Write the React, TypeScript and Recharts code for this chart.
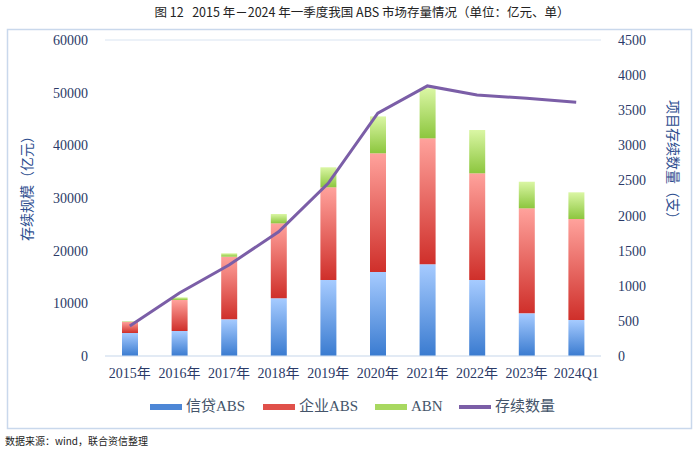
import React from "react";
import { ComposedChart, Bar, Line, XAxis, YAxis, CartesianGrid } from "recharts";

const years = ["2015年", "2016年", "2017年", "2018年", "2019年", "2020年", "2021年", "2022年", "2023年", "2024Q1"];
const creditAbs = [4370, 4750, 6960, 10950, 14430, 15950, 17410, 14430, 8100, 6840];
const corpAbs = [2130, 5880, 11900, 14240, 17600, 22540, 23920, 20260, 19940, 19170];
const abn = [100, 510, 640, 1770, 3800, 7000, 9490, 8220, 5050, 5070];
const counts = [427, 897, 1296, 1770, 2460, 3457, 3846, 3718, 3670, 3613];
const leftTicks = [0, 10000, 20000, 30000, 40000, 50000, 60000];
const rightTicks = [0, 500, 1000, 1500, 2000, 2500, 3000, 3500, 4000, 4500];

const data = years.map((y, i) => ({
  year: y,
  credit: creditAbs[i],
  corp: corpAbs[i],
  abn: abn[i],
  count: counts[i],
}));

const legendItems = [
  { name: "信贷ABS", color: "#4d87d6", x: 150, type: "bar" },
  { name: "企业ABS", color: "#e0504a", x: 263, type: "bar" },
  { name: "ABN", color: "#a8d860", x: 375, type: "bar" },
  { name: "存续数量", color: "#7b5ea7", x: 459, type: "line" },
];

const tickColor = "#2b3a67";
const serif = "'Liberation Serif', 'Noto Sans CJK SC', serif";
const cjk = "'Noto Sans CJK SC', sans-serif";

export default function App() {
  return (
    <div style={{ position: "fixed", left: 0, top: 0, width: 700, height: 452, background: "#fff" }}>
      <ComposedChart
        width={700}
        height={452}
        data={data}
        margin={{ top: 40, right: 39, bottom: 66, left: 45 }}
      >
        <defs>
          <linearGradient id="gBlue" x1="0" y1="0" x2="0" y2="1">
            <stop offset="0%" stopColor="#a6cbff" />
            <stop offset="100%" stopColor="#3a7bd0" />
          </linearGradient>
          <linearGradient id="gRed" x1="0" y1="0" x2="0" y2="1">
            <stop offset="0%" stopColor="#ffa29c" />
            <stop offset="100%" stopColor="#cf2f2a" />
          </linearGradient>
          <linearGradient id="gGreen" x1="0" y1="0" x2="0" y2="1">
            <stop offset="0%" stopColor="#daf6a4" />
            <stop offset="100%" stopColor="#8cc63e" />
          </linearGradient>
        </defs>
        <CartesianGrid vertical={false} stroke="#d9e4f1" strokeWidth={1} />
        <XAxis
          dataKey="year"
          axisLine={{ stroke: "#d9e4f1" }}
          tickLine={false}
          tickSize={0}
          tickMargin={12}
          height={30}
          tick={{ fill: tickColor, fontSize: 14, fontFamily: serif }}
          interval={0}
        />
        <YAxis
          yAxisId="left"
          domain={[0, 60000]}
          ticks={leftTicks}
          axisLine={false}
          tickLine={false}
          tickSize={0}
          tickMargin={17}
          width={60}
          tick={{ fill: tickColor, fontSize: 14, fontFamily: serif }}
        />
        <YAxis
          yAxisId="right"
          orientation="right"
          domain={[0, 4500]}
          ticks={rightTicks}
          axisLine={false}
          tickLine={false}
          tickSize={0}
          tickMargin={17}
          width={60}
          tick={{ fill: tickColor, fontSize: 14, fontFamily: serif, textAnchor: "start" }}
        />
        <Bar yAxisId="left" dataKey="credit" stackId="s" fill="url(#gBlue)" barSize={16} isAnimationActive={false} />
        <Bar yAxisId="left" dataKey="corp" stackId="s" fill="url(#gRed)" barSize={16} isAnimationActive={false} />
        <Bar yAxisId="left" dataKey="abn" stackId="s" fill="url(#gGreen)" barSize={16} isAnimationActive={false} />
        <Line
          yAxisId="right"
          dataKey="count"
          type="linear"
          stroke="#7b5ea7"
          strokeWidth={3}
          dot={false}
          isAnimationActive={false}
        />
      </ComposedChart>
      <svg width={700} height={452} style={{ position: "absolute", left: 0, top: 0, pointerEvents: "none" }}>
        <rect x={7.5} y={29.5} width={684} height={399} fill="none" stroke="#c9d8ec" strokeWidth={1.5} />
        <text
          x={362}
          y={14}
          textAnchor="middle"
          dominantBaseline="middle"
          fontSize={12.5}
          fontFamily={cjk}
          fill="#222"
          style={{ whiteSpace: "pre" }}
        >
          {"图 12   2015 年－2024 年一季度我国 ABS 市场存量情况（单位：亿元、单）"}
        </text>
        <text
          x={28}
          y={185}
          transform="rotate(-90 28 185)"
          textAnchor="middle"
          dominantBaseline="middle"
          fontSize={14}
          fontFamily={cjk}
          fill="#2e4e8f"
        >
          存续规模（亿元）
        </text>
        <text
          x={672}
          y={163}
          transform="rotate(90 672 163)"
          textAnchor="middle"
          dominantBaseline="middle"
          fontSize={14}
          fontFamily={cjk}
          fill="#2e4e8f"
        >
          项目存续数量（支）
        </text>
        {legendItems.map((it) => (
          <g key={it.name}>
            <rect x={it.x} y={it.type === "bar" ? 404 : 405} width={32} height={it.type === "bar" ? 6 : 4} fill={it.color} />
            <text x={it.x + 36} y={408} dominantBaseline="middle" fontSize={15} fontFamily={serif} fill="#44546a">
              {it.name}
            </text>
          </g>
        ))}
        <text x={5} y={442} dominantBaseline="middle" fontSize={10} fontFamily={cjk} fill="#222">
          数据来源：wind，联合资信整理
        </text>
      </svg>
    </div>
  );
}
